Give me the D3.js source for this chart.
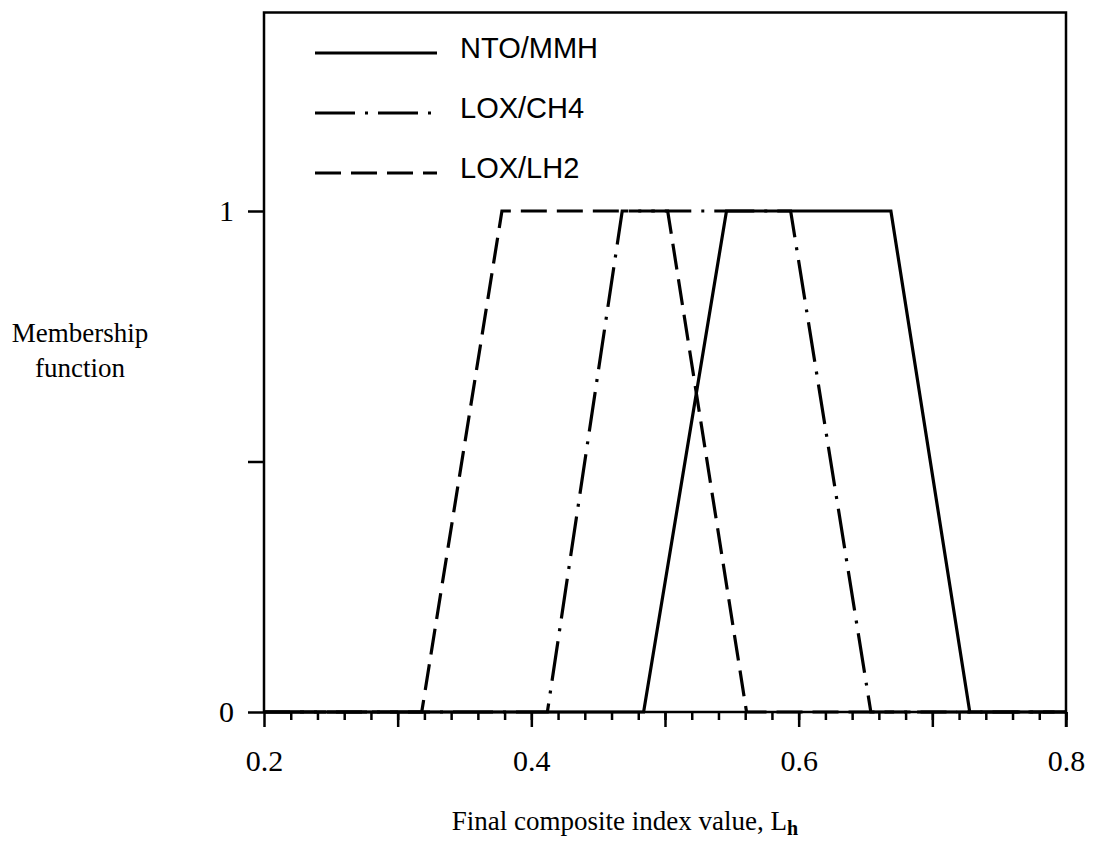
<!DOCTYPE html>
<html>
<head>
<meta charset="utf-8">
<script src="https://cdn.jsdelivr.net/npm/d3@7"></script>
<style>
body { margin: 0; background: #fff; }
.axis path { display: none; }
.axis line { stroke: #000; stroke-width: 2.5; }
.axis text { font-family: "Liberation Serif", "Times New Roman", serif; font-size: 30px; fill: #000; }
.legend text { font-family: "Liberation Sans", Arial, sans-serif; font-size: 29px; fill: #000; }
.title { font-family: "Liberation Serif", "Times New Roman", serif; font-size: 27px; fill: #000; }
</style>
</head>
<body>
<div id="chart"></div>
<script>
var seriesNames = ["NTO/MMH", "LOX/CH4", "LOX/LH2"];

var ntoX  = [0.2, 0.484, 0.546, 0.669, 0.728, 0.8];
var ntoY  = [0, 0, 1, 1, 0, 0];
var ch4X  = [0.2, 0.412, 0.468, 0.594, 0.654, 0.8];
var ch4Y  = [0, 0, 1, 1, 0, 0];
var lh2X  = [0.2, 0.318, 0.378, 0.502, 0.561, 0.8];
var lh2Y  = [0, 0, 1, 1, 0, 0];

var xMajorTicks = [0.2, 0.3, 0.4, 0.5, 0.6, 0.7, 0.8];
var xLabels     = ["0.2", "", "0.4", "", "0.6", "", "0.8"];
var xMinorTicks = d3.range(0.22, 0.8, 0.02);
var yTicks      = [0, 0.5, 1];
var yLabels     = ["0", "", "1"];

var dashes = ["none", "40,10,3,10", "26,10"];

var svg = d3.select("#chart").append("svg").attr("width", 1093).attr("height", 848);

var x = d3.scaleLinear().domain([0.2, 0.8]).range([264, 1066]);
var y = d3.scaleLinear().domain([0, 1]).range([712, 211]);
var yTop = 1.396;

// minor ticks
svg.append("g").attr("class", "axis").attr("transform", "translate(0," + y(0) + ")")
    .call(d3.axisBottom(x).tickValues(xMinorTicks).tickSize(8).tickFormat(""));

// major ticks + labels
svg.append("g").attr("class", "axis").attr("transform", "translate(0," + y(0) + ")")
    .call(d3.axisBottom(x).tickValues(xMajorTicks).tickSize(15).tickPadding(23)
        .tickFormat(function(d, i){ return xLabels[i]; }));

svg.append("g").attr("class", "axis").attr("transform", "translate(" + x(0.2) + ",0)")
    .call(d3.axisLeft(y).tickValues(yTicks).tickSize(16).tickPadding(14)
        .tickFormat(function(d, i){ return yLabels[i]; }));

// frame: left, top, right, bottom
svg.append("path")
    .attr("d", "M" + x(0.2) + "," + y(0) + "V" + y(yTop) + "H" + x(0.8) + "V" + (y(0) + 15) + "M" + x(0.2) + "," + y(0) + "H" + x(0.8))
    .attr("fill", "none").attr("stroke", "#000").attr("stroke-width", 2.5);

var line = d3.line().x(function(d){ return x(d[0]); }).y(function(d){ return y(d[1]); });

var series = [d3.zip(ntoX, ntoY), d3.zip(ch4X, ch4Y), d3.zip(lh2X, lh2Y)];

series.forEach(function(s, i) {
    svg.append("path").attr("d", line(s))
        .attr("fill", "none").attr("stroke", "#000").attr("stroke-width", 3.2)
        .attr("stroke-linejoin", "miter")
        .attr("stroke-dasharray", dashes[i]);
});

// legend
var legend = svg.append("g").attr("class", "legend");
seriesNames.forEach(function(name, i) {
    var ly = 53 + i * 60;
    legend.append("line").attr("x1", 315).attr("x2", 437).attr("y1", ly).attr("y2", ly)
        .attr("stroke", "#000").attr("stroke-width", 3.2).attr("stroke-dasharray", dashes[i]);
    legend.append("text").attr("x", 460).attr("y", ly + 5).text(name);
});

// axis titles
svg.append("text").attr("class", "title").attr("x", 80).attr("y", 342).attr("text-anchor", "middle").text("Membership");
svg.append("text").attr("class", "title").attr("x", 80).attr("y", 377).attr("text-anchor", "middle").text("function");

var xt = svg.append("text").attr("class", "title").attr("x", 625).attr("y", 830).attr("text-anchor", "middle");
xt.append("tspan").text("Final composite index value, L");
xt.append("tspan").attr("dy", 5).attr("font-size", 20).attr("font-weight", "bold").text("h");
</script>
</body>
</html>
